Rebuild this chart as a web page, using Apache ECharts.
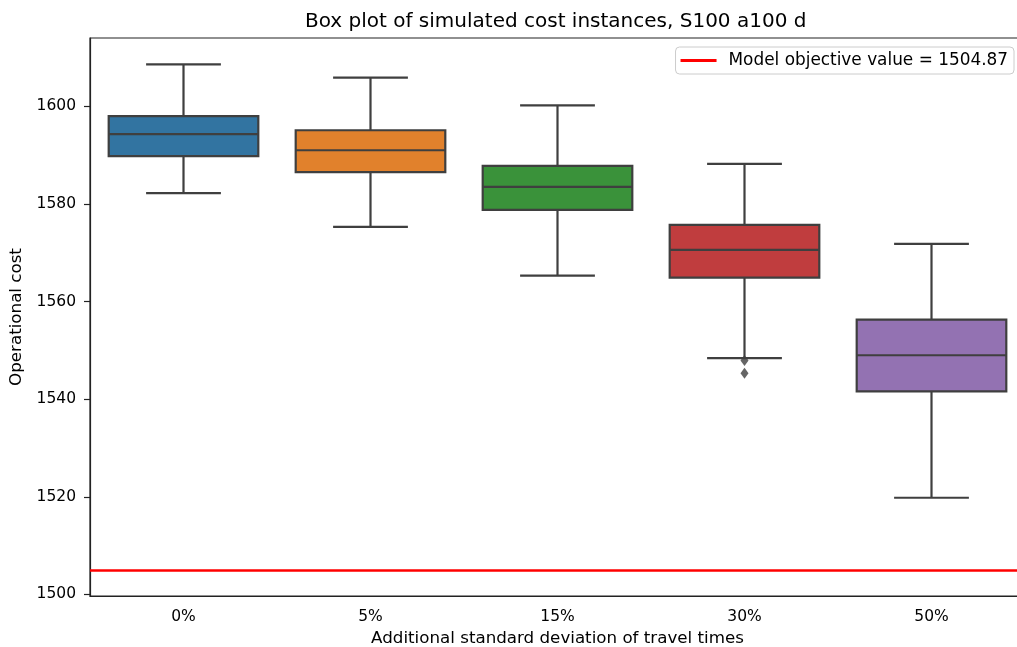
<!DOCTYPE html>
<html>
<head>
<meta charset="utf-8">
<style>html,body{margin:0;padding:0;background:#fff;}#c{width:1017px;height:647px;}</style>
<script src="https://cdn.jsdelivr.net/npm/echarts@6/dist/echarts.min.js"></script>
</head>
<body>
<div id="c"></div>
<script>
const categories = ['0%', '5%', '15%', '30%', '50%'];
const lowWhisker = [1582.2, 1575.3, 1565.3, 1548.4, 1519.8];
const q1 = [1589.8, 1586.5, 1578.8, 1564.9, 1541.6];
const median = [1594.3, 1591.0, 1583.5, 1570.6, 1549.0];
const q3 = [1598.0, 1595.1, 1587.8, 1575.7, 1556.3];
const highWhisker = [1608.6, 1605.9, 1600.2, 1588.2, 1571.8];
const outliers = [[3, 1547.9], [3, 1545.3]];
const modelObjective = 1504.87;
const yTicks = [1500, 1520, 1540, 1560, 1580, 1600];
const palette = ['#3274a1', '#e1812c', '#3a923a', '#c03d3e', '#9372b2'];

const boxData = categories.map((c, i) => [i, lowWhisker[i], q1[i], median[i], q3[i], highWhisker[i]]);
const lineColor = '#3f3f3f';
const font = 'DejaVu Sans';
const fs = 16.7;
const tfs = 15.5;

const chart = echarts.init(document.getElementById('c'), null, {renderer: 'canvas'});
chart.setOption({
  animation: false,
  backgroundColor: '#fff',
  title: {
    text: 'Box plot of simulated cost instances, S100 a100 d',
    left: 300, top: 7,
    textStyle: {fontFamily: font, fontSize: 20, fontWeight: 'normal', color: '#000'}
  },
  legend: {
    right: 3, top: 47,
    data: [{name: 'Model objective value = ' + modelObjective.toFixed(2), icon: 'rect'}],
    itemWidth: 36, itemHeight: 3,
    padding: [5, 6, 5, 5],
    borderColor: '#cccccc', borderWidth: 1, borderRadius: 4,
    textStyle: {fontFamily: font, fontSize: 16.9, color: '#000', padding: [0, 0, 0, 7], lineHeight: 17}
  },
  grid: {left: 90, top: 38, width: 935, height: 558, outerBoundsMode: 'none', containLabel: false,
    show: true, borderColor: '#222', borderWidth: 1.2, backgroundColor: 'transparent'},
  xAxis: {
    type: 'category', data: categories, boundaryGap: true,
    name: 'Additional standard deviation of travel times', nameLocation: 'middle', nameGap: 34,
    nameTextStyle: {fontFamily: font, fontSize: fs, color: '#000'},
    axisLine: {lineStyle: {color: '#222', width: 1.2}},
    axisTick: {alignWithLabel: true, length: 6, lineStyle: {color: '#222', width: 1.2}},
    axisLabel: {fontFamily: font, fontSize: tfs, color: '#000', margin: 13},
    splitLine: {show: false}
  },
  yAxis: {
    type: 'value', min: 1499.67, max: 1614,
    name: 'Operational cost', nameLocation: 'middle', nameGap: 62,
    nameTextStyle: {fontFamily: font, fontSize: fs, color: '#000'},
    axisLine: {show: true, lineStyle: {color: '#222', width: 1.2}},
    axisTick: {show: true, length: 6, customValues: yTicks, lineStyle: {color: '#222', width: 1.2}},
    axisLabel: {fontFamily: font, fontSize: tfs, color: '#000', margin: 14, customValues: yTicks,
      formatter: function (v) { return String(v); }},
    splitLine: {show: false}
  },
  series: [
    {
      type: 'custom', name: 'box',
      data: boxData,
      encode: {x: 0, y: [1, 2, 3, 4, 5]},
      renderItem: function (params, api) {
        const idx = api.value(0);
        const bw = api.size([1, 0])[0] * 0.8;
        const cw = bw / 2;
        const lo = api.coord([idx, api.value(1)]);
        const b1 = api.coord([idx, api.value(2)]);
        const md = api.coord([idx, api.value(3)]);
        const b3 = api.coord([idx, api.value(4)]);
        const hi = api.coord([idx, api.value(5)]);
        const x = lo[0];
        const ls = {stroke: lineColor, lineWidth: 2.2};
        return {
          type: 'group',
          children: [
            {type: 'line', shape: {x1: x, y1: hi[1], x2: x, y2: b3[1]}, style: ls},
            {type: 'line', shape: {x1: x, y1: b1[1], x2: x, y2: lo[1]}, style: ls},
            {type: 'line', shape: {x1: x - cw / 2, y1: hi[1], x2: x + cw / 2, y2: hi[1]}, style: ls},
            {type: 'line', shape: {x1: x - cw / 2, y1: lo[1], x2: x + cw / 2, y2: lo[1]}, style: ls},
            {type: 'rect', shape: {x: x - bw / 2, y: b3[1], width: bw, height: b1[1] - b3[1]},
              style: {fill: palette[idx], stroke: lineColor, lineWidth: 2.2}},
            {type: 'line', shape: {x1: x - bw / 2, y1: md[1], x2: x + bw / 2, y2: md[1]}, style: ls}
          ]
        };
      }
    },
    {
      type: 'scatter', name: 'outliers', data: outliers,
      symbol: 'diamond', symbolSize: [8, 11],
      itemStyle: {color: lineColor}, z: 5
    },
    {
      type: 'line', name: 'Model objective value = ' + modelObjective.toFixed(2),
      data: [], itemStyle: {color: '#ff0000'}, lineStyle: {color: '#ff0000', width: 2.5},
      markLine: {
        silent: true, symbol: ['none', 'none'], label: {show: false},
        lineStyle: {color: '#ff0000', width: 2.5, type: 'solid'},
        data: [{yAxis: modelObjective}]
      }
    }
  ]
});
</script>
</body>
</html>
